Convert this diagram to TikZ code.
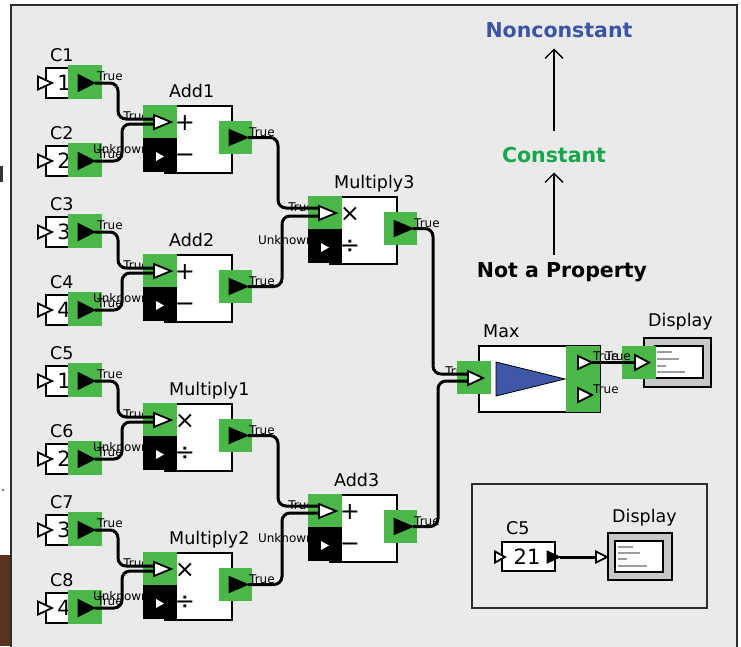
\documentclass[tikz,border=0pt]{standalone}
\usepackage{fontspec}
\setmainfont{DejaVu Sans}
\usepackage{tikz}
\usetikzlibrary{arrows.meta,calc}

\definecolor{panelgrey}{HTML}{EAEAEA}
\definecolor{framegrey}{HTML}{2E2E2E}
\definecolor{portgreen}{HTML}{4BB748}
\definecolor{maxblue}{HTML}{3F57A7}
\definecolor{nonconstblue}{HTML}{3B55A5}
\definecolor{constgreen}{HTML}{16A64C}
\definecolor{dispgrey}{HTML}{C8C8C8}
\definecolor{screenline}{HTML}{9C9C9C}
\definecolor{woodbrown}{HTML}{5A3320}

\tikzset{
  panel/.style={fill=panelgrey, draw=framegrey, line width=1.5pt},
  subpanel/.style={draw=framegrey, line width=1.2pt},
  portbg/.style={fill=portgreen},
  blockbody/.style={fill=white, draw=black, line width=1.2pt},
  screenframe/.style={fill=dispgrey, draw=black, line width=1.2pt},
  screentext/.style={draw=screenline, line width=1.3pt},
  inport/.style={fill=white, draw=black, line width=1.8pt, line join=miter},
  outport/.style={fill=black, draw=black, line width=1pt, line join=miter},
  wire/.style={draw=black, line width=3pt, rounded corners=8pt},
  blocklabel/.style={font=\fontsize{17.5}{20}\selectfont, inner sep=0pt},
  valtext/.style={font=\fontsize{21}{24}\selectfont, inner sep=0pt},
  portlabel/.style={font=\fontsize{12}{14}\selectfont, inner sep=0pt},
  opsym/.style={font=\fontsize{24}{26}\selectfont, inner sep=0pt, anchor=base},
  legendtext/.style={font=\fontsize{20.5}{24}\selectfont\bfseries, inner sep=0pt, anchor=base},
  legarrow/.style={-{Straight Barb[length=9pt,width=18pt]}, line width=1.3pt},
}

% constant source: name, x, y (green port corner), value, label
\newcommand{\constblock}[5]{%
  \begin{scope}[shift={(#2,#3)}]
    \filldraw[blockbody] (-22,3) rectangle (15,33);
    \node[valtext] at (-4,18) {#4};
    \draw[inport] (-30,11.5) -- (-16,18) -- (-30,24.5) -- cycle;
    \fill[portbg] (0,0) rectangle (34,34);
    \draw[outport] (10,9.5) -- (27,18) -- (10,26.5) -- cycle;
    \node[blocklabel, anchor=base west] (#1) at (-18,-4) {#5};
    \node[portlabel, anchor=west] at (29,11) {True};
    \coordinate (#1-out) at (27,18);
  \end{scope}}

% two-input operator: name, x, y, top sign, bottom sign, label
\newcommand{\opblock}[6]{%
  \begin{scope}[shift={(#2,#3)}]
    \node[portlabel, anchor=east] at (6,11) {True};
    \node[portlabel, anchor=east] at (6,44) {Unknown};
    \filldraw[blockbody] (22,1) rectangle (89,68);
    \fill[portbg] (0,0) rectangle (34,33);
    \fill[black] (0,33) rectangle (34,67);
    \fill[portbg] (76,16) rectangle (109,49);
    \draw[inport] (11,10) -- (28,17) -- (11,24) -- cycle;
    \fill[white] (13,47) -- (21,51.5) -- (13,56) -- cycle;
    \draw[outport] (86,24.5) -- (105,32.5) -- (86,40.5) -- cycle;
    \node[opsym] at (42,25.3) {#4};
    \node[opsym] at (42,57.5) {#5};
    \node[blocklabel, anchor=base west] (#1) at (26,-8) {#6};
    \node[portlabel, anchor=west] at (106,27) {True};
    \coordinate (#1-in) at (11,17);
    \coordinate (#1-out) at (105,32.5);
  \end{scope}}

\begin{document}
\begin{tikzpicture}[x=1pt, y=-1pt]

  \useasboundingbox (0,0) rectangle (741,646);
  \fill[white] (0,0) rectangle (741,646);
  \fill[woodbrown] (0,555) rectangle (10,646);
  \fill[black!80] (0,166) rectangle (3,182);
  \fill[black!70] (3,490) circle (1.2);
  \filldraw[panel] (11,5) rectangle (737,660);

  %% sources
  \constblock{c1}{68}{65}{1}{C1}
  \constblock{c2}{68}{143}{2}{C2}
  \constblock{c3}{68}{214}{3}{C3}
  \constblock{c4}{68}{292}{4}{C4}
  \constblock{c5}{68}{363}{1}{C5}
  \constblock{c6}{68}{441}{2}{C6}
  \constblock{c7}{68}{512}{3}{C7}
  \constblock{c8}{68}{590}{4}{C8}

  %% operators
  \opblock{add1}{143}{105}{+}{−}{Add1}
  \opblock{add2}{143}{254}{+}{−}{Add2}
  \opblock{mul1}{143}{403}{×}{÷}{Multiply1}
  \opblock{mul2}{143}{552}{×}{÷}{Multiply2}
  \opblock{mul3}{308}{196}{×}{÷}{Multiply3}
  \opblock{add3}{308}{494}{+}{−}{Add3}

  %% Max
  \node[portlabel, anchor=east] at (471,371) {True};
  \filldraw[blockbody] (479,346) rectangle (600,412);
  \fill[portbg] (457,361) rectangle (491,394);
  \fill[portbg] (566,346) rectangle (600,412);
  \filldraw[fill=maxblue, draw=black, line width=0.8pt] (496,362) -- (565,379) -- (496,396) -- cycle;
  \draw[inport] (468,371) -- (483,378) -- (468,385) -- cycle;
  \draw[inport] (578,356) -- (592,362.5) -- (578,369) -- cycle;
  \draw[inport] (578,388) -- (592,395) -- (578,402) -- cycle;
  \node[blocklabel, anchor=base west] (max) at (483,337) {Max};
  \node[portlabel, anchor=west] at (593,356) {True};
  \node[portlabel, anchor=west] at (593,389) {True};
  \coordinate (max-in) at (468,378);
  \coordinate (max-out) at (592,362.5);

  %% Display
  \filldraw[screenframe] (644,338) rectangle (711,387);
  \filldraw[blockbody] (655,346) rectangle (703,378);
  \draw[screentext] (657,352) -- (672,352);
  \draw[screentext] (657,359) -- (679,359);
  \draw[screentext] (657,366) -- (666,366);
  \draw[screentext] (657,372) -- (685,372);
  \fill[portbg] (622,346) rectangle (656,379);
  \draw[inport] (635,355) -- (649,362.5) -- (635,370) -- cycle;
  \node[portlabel, anchor=east] at (631,356) {True};
  \node[blocklabel, anchor=base west] (disp) at (648,326) {Display};
  \coordinate (disp-in) at (635,362.5);

  %% small example box
  \draw[subpanel] (472,484) rectangle (707,608);
  \filldraw[blockbody] (502,542) rectangle (555,571);
  \node[valtext] at (527,557) {21};
  \draw[inport] (495,551.5) -- (505,557) -- (495,562.5) -- cycle;
  \draw[outport] (547,551) -- (560,557) -- (547,563) -- cycle;
  \node[blocklabel, anchor=base west] (c5b) at (506,534) {C5};
  \coordinate (c5b-out) at (560,557);
  \filldraw[screenframe] (608,533) rectangle (672,580);
  \filldraw[blockbody] (615,541) rectangle (663,572);
  \draw[screentext] (618,547) -- (633,547);
  \draw[screentext] (618,553) -- (640,553);
  \draw[screentext] (618,559) -- (627,559);
  \draw[screentext] (618,566) -- (647,566);
  \draw[inport] (596,551.5) -- (607,557) -- (596,562.5) -- cycle;
  \node[blocklabel, anchor=base west] (disp2) at (612,522) {Display};
  \coordinate (disp2-in) at (596,557);

  %% wires
  \draw[wire] (c1-out) -- ++(23,0) |- ([shift={(0,-3)}]add1-in);
  \draw[wire] (c2-out) -- ++(27,0) |- ([shift={(0,2)}]add1-in);
  \draw[wire] (c3-out) -- ++(23,0) |- ([shift={(0,-3)}]add2-in);
  \draw[wire] (c4-out) -- ++(27,0) |- ([shift={(0,2)}]add2-in);
  \draw[wire] (c5-out) -- ++(23,0) |- ([shift={(0,-3)}]mul1-in);
  \draw[wire] (c6-out) -- ++(27,0) |- ([shift={(0,2)}]mul1-in);
  \draw[wire] (c7-out) -- ++(23,0) |- ([shift={(0,-3)}]mul2-in);
  \draw[wire] (c8-out) -- ++(27,0) |- ([shift={(0,2)}]mul2-in);
  \draw[wire] (add1-out) -- ++(30,0) |- ([shift={(0,-5)}]mul3-in);
  \draw[wire] (add2-out) -- ++(34,0) |- ([shift={(0,3)}]mul3-in);
  \draw[wire] (mul1-out) -- ++(30,0) |- ([shift={(0,-5)}]add3-in);
  \draw[wire] (mul2-out) -- ++(34,0) |- ([shift={(0,2)}]add3-in);
  \draw[wire] (mul3-out) -- ++(20,0) |- ([shift={(0,-4)}]max-in);
  \draw[wire] (add3-out) -- ++(25,0) |- ([shift={(0,3)}]max-in);
  \draw[wire] (max-out) -- (disp-in);
  \draw[wire] (c5b-out) -- (disp2-in);

  %% property legend
  \node[legendtext, text=nonconstblue] (nonc) at (559,37) {Nonconstant};
  \node[legendtext, text=constgreen] (cnst) at (554,162) {Constant};
  \node[legendtext] (notprop) at (562,277) {Not a Property};
  \draw[legarrow, shorten <=16pt, shorten >=11pt] (cnst.north) -- (cnst.north |- nonc.south);
  \draw[legarrow, shorten <=7pt, shorten >=10pt] (notprop.north -| cnst.north) -- (cnst.south);

\end{tikzpicture}
\end{document}
